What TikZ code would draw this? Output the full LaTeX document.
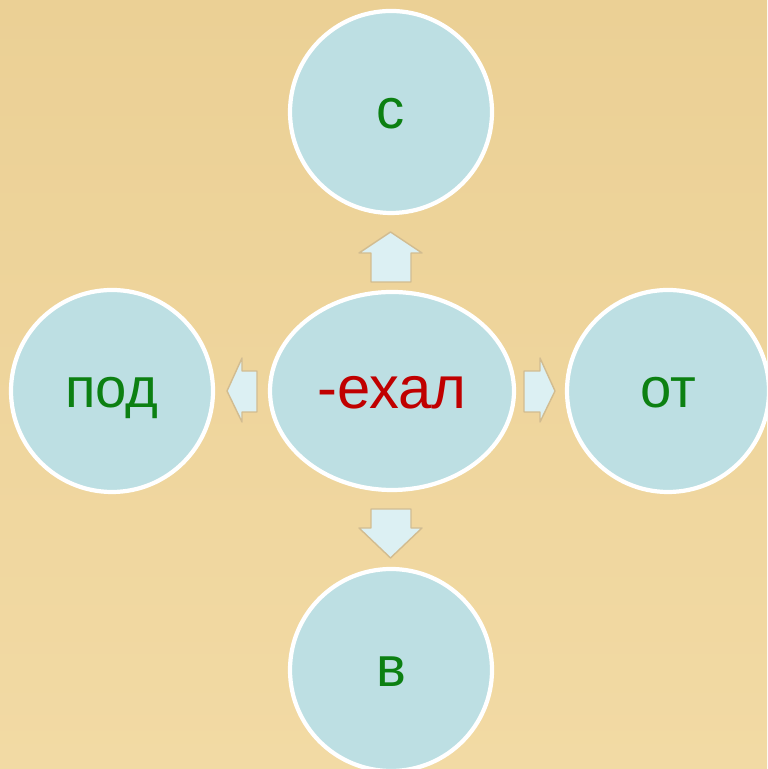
\documentclass[tikz,border=0pt]{standalone}
\usepackage{fontspec}
\setmainfont{Liberation Sans}
\usetikzlibrary{shapes.geometric}

\definecolor{papyrus}{HTML}{F2DAA4}
\definecolor{papyrusdark}{HTML}{EBD095}
\definecolor{bubble}{HTML}{BDDFE3}
\definecolor{arrowfill}{HTML}{DCF0F3}
\definecolor{arrowedge}{HTML}{D2BC90}
\definecolor{prefixgreen}{HTML}{0C8012}
\definecolor{rootred}{HTML}{C00000}

\tikzset{
  bubble/.style = {circle, fill = bubble, draw = white, line width = 1.2pt,
    minimum size = 2.02cm, inner sep = 0, text = prefixgreen,
    text height = 12pt, text depth = 2.4pt,
    font = \fontsize{16}{18}\selectfont},
  blockarrow/.style = {fill = arrowfill, draw = arrowedge, line width = 0.4pt,
    line join = round}
}

\begin{document}
\begin{tikzpicture}
  \useasboundingbox (0, 0) rectangle (7.67cm, 7.69cm);
  \shade[top color = papyrusdark, bottom color = papyrus] (0, 0) rectangle (7.67cm, 7.69cm);

  % root in the middle
  \node[ellipse, fill = bubble, draw = white, line width = 1.2pt,
    minimum width = 2.44cm, minimum height = 1.98cm, text = rootred,
    text height = 12.5pt, text depth = 2.5pt,
    font = \fontsize{17}{19}\selectfont] (root) at (3.92cm, 3.78cm) {-ехал};

  % prefixes
  \node[bubble] (top) at (3.91cm, 6.57cm) {с};
  \node[bubble] (left) at (1.12cm, 3.78cm) {под};
  \node[bubble] (right) at (6.68cm, 3.78cm) {от};
  \node[bubble] (bottom) at (3.91cm, 0.99cm) {в};

  % block arrows between root and prefixes
  \draw[blockarrow] (3.71cm, 4.87cm) -- (3.71cm, 5.16cm) -- (3.59cm, 5.16cm)
    -- (3.905cm, 5.37cm) -- (4.22cm, 5.16cm) -- (4.11cm, 5.16cm)
    -- (4.11cm, 4.87cm) -- cycle;
  \draw[blockarrow] (2.57cm, 3.57cm) -- (2.42cm, 3.57cm) -- (2.42cm, 3.47cm)
    -- (2.27cm, 3.78cm) -- (2.42cm, 4.11cm) -- (2.42cm, 3.98cm)
    -- (2.57cm, 3.98cm) -- cycle;
  \draw[blockarrow] (5.24cm, 3.57cm) -- (5.40cm, 3.57cm) -- (5.40cm, 3.47cm)
    -- (5.55cm, 3.78cm) -- (5.40cm, 4.11cm) -- (5.40cm, 3.98cm)
    -- (5.24cm, 3.98cm) -- cycle;
  \draw[blockarrow] (3.71cm, 2.60cm) -- (3.71cm, 2.41cm) -- (3.59cm, 2.41cm)
    -- (3.905cm, 2.11cm) -- (4.22cm, 2.41cm) -- (4.11cm, 2.41cm)
    -- (4.11cm, 2.60cm) -- cycle;
\end{tikzpicture}
\end{document}
